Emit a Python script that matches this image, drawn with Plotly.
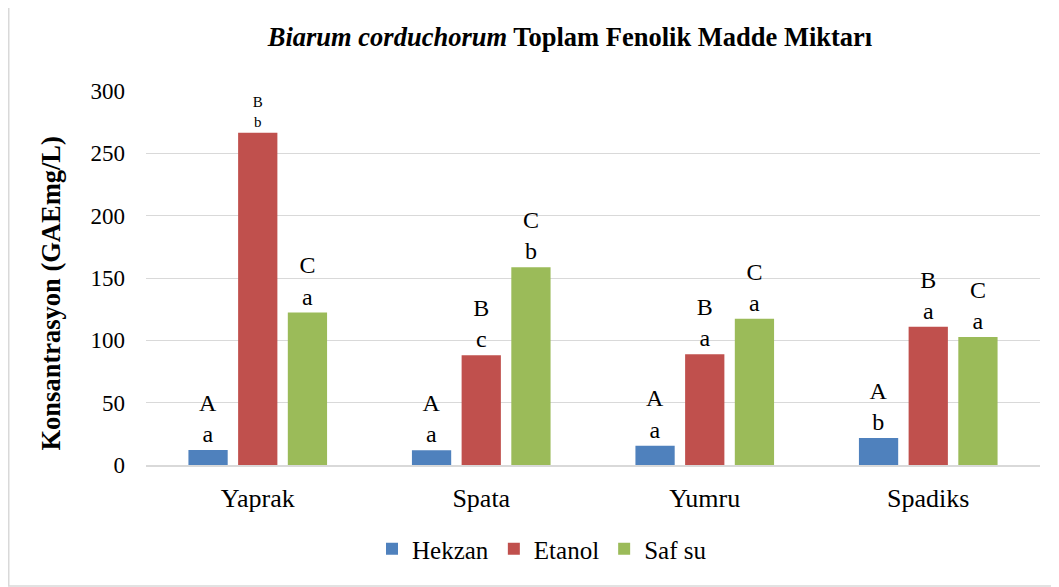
import plotly.graph_objects as go

# Data
parts = ["Yaprak", "Spata", "Yumru", "Spadiks"]
hekzan = [12.0, 11.8, 15.5, 21.6]
etanol = [266.6, 88.1, 88.9, 110.8]
saf_su = [122.3, 158.6, 117.3, 102.6]

# Significance letters above the bars
hekzan_lbl = ["A<br>a", "A<br>a", "A<br>a", "A<br>b"]
etanol_lbl = ["B<br>b", "B<br>c", "B<br>a", "B<br>a"]
saf_su_lbl = ["C<br>a", "C<br>b", "C<br>a", "C<br>a"]

FONT = "Liberation Serif, Times New Roman, serif"

# page body adds an 8px margin, so the figure is laid out 8px smaller
W, H = 1051, 579
L, R, T, B = 138, 19, 83, 122
PW, PH = W - L - R, H - T - B

fig = go.Figure()

series = [
    ("Hekzan", hekzan, hekzan_lbl, "#4F81BD", [24, 24, 24, 24]),
    ("Etanol", etanol, etanol_lbl, "#C0504D", [15, 24, 24, 24]),
    ("Saf su", saf_su, saf_su_lbl, "#9BBB59", [24, 24, 24, 24]),
]
for name, vals, lbl, col, sizes in series:
    fig.add_trace(go.Bar(
        x=parts, y=vals, name=name,
        marker=dict(color=col, line=dict(width=0)),
        text=lbl, textposition="outside",
        textfont=dict(family=FONT, size=sizes, color="black"),
        cliponaxis=False,
    ))

fig.update_layout(
    width=W, height=H,
    barmode="group", bargap=0.333, bargroupgap=0.21,
    paper_bgcolor="white", plot_bgcolor="white",
    margin=dict(l=L, r=R, t=T, b=B),
    font=dict(family=FONT, size=22, color="black"),
    title=dict(
        text="<b><i>Biarum corduchorum</i> Toplam Fenolik Madde Miktarı</b>",
        x=562 / W, xanchor="center", y=1 - 29 / H, yanchor="middle",
        font=dict(family=FONT, size=26.5, color="black"),
    ),
    xaxis=dict(
        showline=True, linecolor="#D9D9D9", linewidth=1.5,
        ticks="", tickfont=dict(size=26), ticklabelstandoff=9,
    ),
    yaxis=dict(
        range=[0, 300], dtick=50, showgrid=True, gridcolor="#D9D9D9",
        gridwidth=1.2, zeroline=False, ticks="",
        tickfont=dict(size=23), ticklabelstandoff=20,
    ),
    legend=dict(
        orientation="h", x=(534 - L) / PW, xanchor="center",
        y=-(541 - (H - B)) / PH, yanchor="middle",
        font=dict(size=25), traceorder="normal",
    ),
)

# y axis title, placed a little below the plot's middle as in the original
fig.add_annotation(
    text="<b>Konsantrasyon (GAEmg/L)</b>", textangle=-90,
    xref="paper", yref="paper", x=(42 - L) / PW, y=((H - B) - 285.5) / PH,
    xanchor="center", yanchor="middle", showarrow=False,
    font=dict(family=FONT, size=26.5, color="black"),
)

# light grey chart frame
fig.add_shape(type="rect", xref="paper", yref="paper",
              x0=(0.75 - L) / PW, x1=(W + 20 - L) / PW,
              y0=-(H - 1 - (H - B)) / PH, y1=(H - B + 20) / PH,
              line=dict(color="#D9D9D9", width=1.5), layer="below")

fig.write_html("out.html")
